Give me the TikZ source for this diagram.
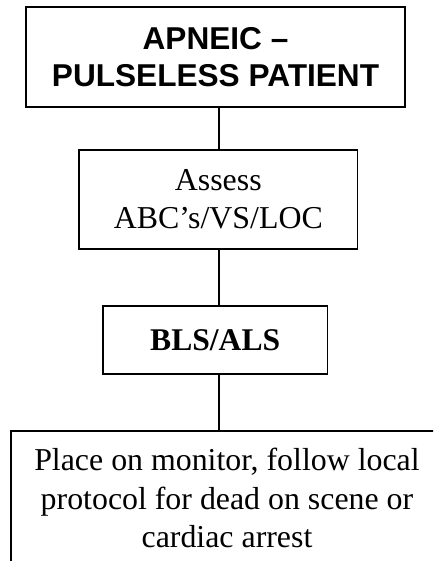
\documentclass[tikz,border=0pt]{standalone}
\usepackage{fontspec}
\setmainfont{Liberation Serif}
\newfontfamily\arialfont{Liberation Sans}
\begin{document}
\begin{tikzpicture}[x=0.75pt,y=-0.75pt,
  flowbox/.style={draw=black,line width=1.1pt,rectangle,inner sep=0pt,outer sep=0pt,align=center},
  headtext/.style={font=\arialfont\bfseries\fontsize{23.7pt}{27.5pt}\selectfont},
  bodytext/.style={font=\fontsize{23.9pt}{28.6pt}\selectfont},
  link/.style={draw=black,line width=1.1pt}]
\useasboundingbox (0,0) rectangle (433,561);
\begin{scope}
\clip (0,0) rectangle (433,561);
\node[flowbox,headtext,minimum width=284.25pt,minimum height=75pt] (a) at (215.5,57) {APNEIC –\\PULSELESS PATIENT};
\node[flowbox,bodytext,minimum width=208.9pt,minimum height=74.25pt] (b) at (218.3,199.5) {Assess\\ABC’s/VS/LOC};
\node[flowbox,bodytext,font=\bfseries\fontsize{23.7pt}{28.5pt}\selectfont,minimum width=168.4pt,minimum height=51pt] (c) at (215.2,340) {BLS/ALS};
\node[flowbox,bodytext,minimum width=324pt,minimum height=100.5pt,anchor=north west] (d) at (11,431) {};
\node[bodytext,align=center,inner sep=0pt] (dt) at (227,498) {Place on monitor, follow local\\protocol for dead on scene or\\cardiac arrest};
\coordinate (spine) at (219,0);
\draw[link] (a.south -| spine) -- (b.north -| spine);
\draw[link] (b.south -| spine) -- (c.north -| spine);
\draw[link] (c.south -| spine) -- (d.north -| spine);
\end{scope}
\end{tikzpicture}
\end{document}
